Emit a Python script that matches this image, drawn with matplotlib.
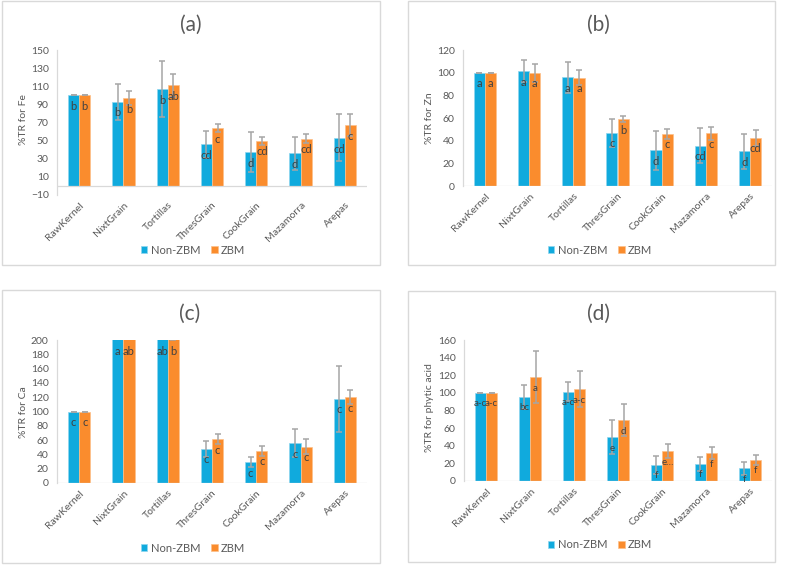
import matplotlib
matplotlib.use("Agg")
import matplotlib.pyplot as plt
import numpy as np
from matplotlib.patches import Rectangle

plt.rcParams['font.family'] = ['Lato', 'DejaVu Sans']

categories = ["RawKernel", "NixtGrain", "Tortillas", "ThresGrain", "CookGrain", "Mazamorra", "Arepas"]
series_names = ["Non-ZBM", "ZBM"]

# (a) Fe
fe_non = [100, 93, 107, 46, 37, 36, 53]
fe_zbm = [100, 97, 111, 64, 50, 52, 67]
fe_non_err = [0, 20, 31, 15, 22, 18, 26]
fe_zbm_err = [0, 8, 13, 4, 4.5, 5, 12]
fe_non_lbl = ["b", "b", "b", "cd", "d", "d", "cd"]
fe_zbm_lbl = ["b", "b", "ab", "c", "cd", "cd", "c"]

# (b) Zn
zn_non = [100, 101.5, 96, 47, 31.5, 35.5, 30.5]
zn_zbm = [100, 100, 95.5, 59, 46, 46.5, 42.5]
zn_non_err = [0, 9.5, 13.5, 12.5, 17, 15.5, 15.5]
zn_zbm_err = [0, 8, 6.5, 2.5, 4.5, 6, 7]
zn_non_lbl = ["a", "a", "a", "c", "d", "cd", "d"]
zn_zbm_lbl = ["a", "a", "a", "b", "c", "c", "cd"]

# (c) Ca  (NixtGrain / Tortillas run off the top of the axis)
ca_non = [100, 245, 235, 48, 29, 56, 118]
ca_zbm = [100, 240, 230, 61, 45, 51, 120]
ca_non_err = [0, 30, 30, 11, 7, 20, 46]
ca_zbm_err = [0, 30, 30, 7, 7, 10, 10]
ca_non_lbl = ["c", "a", "ab", "c", "c", "c", "c"]
ca_zbm_lbl = ["c", "ab", "b", "c", "c", "c", "c"]

# (d) phytic acid
pa_non = [100, 95.5, 101.5, 50, 18.5, 19.5, 14.5]
pa_zbm = [100, 118, 104.5, 69, 34, 31.5, 24]
pa_non_err = [0, 14, 10.5, 19, 10, 8, 7.5]
pa_zbm_err = [0, 29, 20.5, 18.5, 7.5, 7, 6]
pa_non_lbl = ["a-c", "bc", "a-c", "e", "f", "f", "f"]
pa_zbm_lbl = ["a-c", "a", "a-c", "d", "e\u2026", "f", "f"]

W, H = 789, 566
BLUE = "#10AADD"
ORANGE = "#FA8C2D"
TXT = "#595959"
LINE = "#D9D9D9"


def fx(x):
    return x / W


def fy(y):
    return 1 - y / H


def draw_panel(fig, frame, axbox, title, title_xy, legend_xy, ylabel, ylabel_xy,
               ylim, yticks, non, zbm, non_err, zbm_err, non_lbl, zbm_lbl, lbl_size=8):
    l, t, r, b = frame
    fig.patches.append(Rectangle((fx(l), fy(b)), fx(r - l), (b - t) / H,
                                 transform=fig.transFigure, fill=False,
                                 edgecolor=LINE, lw=1.0))
    al, at, ar, ab = axbox
    ax = fig.add_axes([fx(al), fy(ab), fx(ar - al), (ab - at) / H])

    x = np.arange(len(categories))
    w = 0.253
    b1 = ax.bar(x - w / 2, non, w, color=BLUE, edgecolor="#8FD6EF", lw=0.5, label=series_names[0])
    b2 = ax.bar(x + w / 2, zbm, w, color=ORANGE, edgecolor="#FDC08A", lw=0.5, label=series_names[1])
    ax.errorbar(x - w / 2, non, yerr=non_err, fmt="none", ecolor="#A6A6A6",
                elinewidth=1.1, capsize=2, capthick=1.1)
    ax.errorbar(x + w / 2, zbm, yerr=zbm_err, fmt="none", ecolor="#A6A6A6",
                elinewidth=1.1, capsize=2, capthick=1.1)

    for xs, vals, lbls in [(x - w / 2, non, non_lbl), (x + w / 2, zbm, zbm_lbl)]:
        for xi, v, s in zip(xs, vals, lbls):
            ax.annotate(s, (xi, min(v, ylim[1])), xytext=(0, -8), textcoords="offset points",
                        ha="center", va="center", fontsize=lbl_size, color="#404040")

    ax.set_xlim(-0.5, len(categories) - 0.5)
    ax.set_ylim(*ylim)
    ax.set_yticks(yticks)
    ax.set_xticks(x)
    ax.set_xticklabels(categories, rotation=45, ha="right", rotation_mode="anchor")
    ax.axhline(0, color=LINE, lw=0.9)
    for s in ["top", "right", "bottom"]:
        ax.spines[s].set_visible(False)
    ax.spines["left"].set_color(LINE)
    ax.spines["left"].set_linewidth(0.9)
    ax.tick_params(length=0, labelsize=7.5, labelcolor=TXT)
    ax.tick_params(axis="y", pad=6)
    ax.tick_params(axis="x", pad=4)
    ax.patch.set_alpha(0)

    fig.text(fx(title_xy[0]), fy(title_xy[1]), title, ha="center", va="center",
             fontsize=15, color=TXT)
    fig.text(fx(ylabel_xy[0]), fy(ylabel_xy[1]), ylabel, ha="center", va="center",
             rotation=90, fontsize=7.5, color=TXT)
    fig.legend([b1, b2], series_names, loc="center",
               bbox_to_anchor=(fx(legend_xy[0]), fy(legend_xy[1])), ncol=2,
               frameon=False, fontsize=8, labelcolor=TXT, handlelength=0.6,
               handleheight=0.6, handletextpad=0.3, columnspacing=1.0)
    return ax


fig = plt.figure(figsize=(7.89, 5.66), dpi=100)

draw_panel(fig, (2, 1, 380, 265), (57, 50, 367, 195), "(a)", (191, 25), (193, 250),
           "%TR for Fe", (24, 120), (-10, 150), np.arange(-10, 151, 20),
           fe_non, fe_zbm, fe_non_err, fe_zbm_err, fe_non_lbl, fe_zbm_lbl)
draw_panel(fig, (408, 1, 775, 265), (463, 50, 772, 186), "(b)", (598, 25), (600, 250),
           "%TR for Zn", (430, 118), (0, 120), np.arange(0, 121, 20),
           zn_non, zn_zbm, zn_non_err, zn_zbm_err, zn_non_lbl, zn_zbm_lbl)
draw_panel(fig, (2, 290, 380, 563), (57, 340, 367, 483), "(c)", (190, 314), (193, 548),
           "%TR for Ca", (24, 412), (0, 200), np.arange(0, 201, 20),
           ca_non, ca_zbm, ca_non_err, ca_zbm_err, ca_non_lbl, ca_zbm_lbl)
draw_panel(fig, (408, 291, 775, 562), (464, 340, 772, 481), "(d)", (598, 314), (600, 545),
           "%TR for phytic acid", (430, 408), (0, 160), np.arange(0, 161, 20),
           pa_non, pa_zbm, pa_non_err, pa_zbm_err, pa_non_lbl, pa_zbm_lbl, lbl_size=7)

fig.savefig("out.png", dpi=100)
